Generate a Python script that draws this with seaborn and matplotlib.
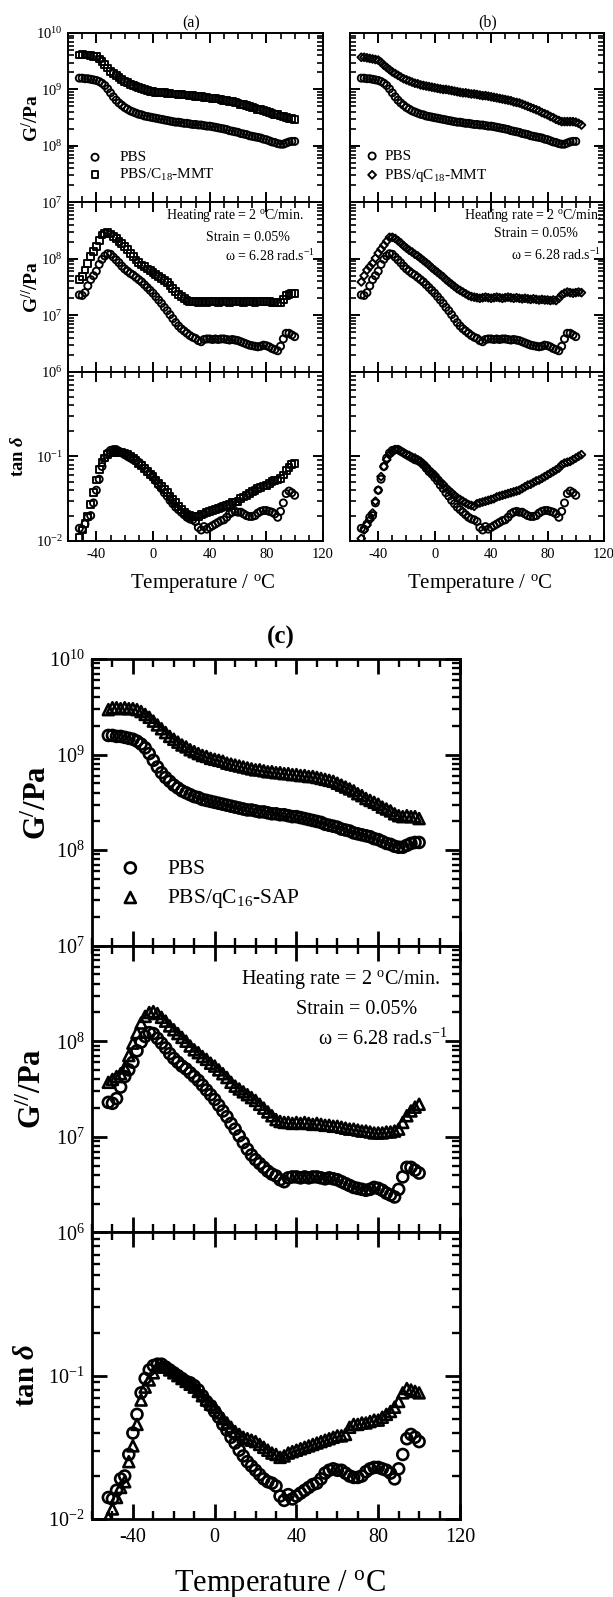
import numpy as np
import pandas as pd
import matplotlib
matplotlib.use("Agg")
import matplotlib.pyplot as plt
import seaborn as sns
from matplotlib.ticker import FixedLocator, FixedFormatter, MultipleLocator, LogLocator, NullFormatter

# ---------------- data (stored as log10) ----------------
temp = [-52, -50, -48, -46, -44, -42, -40, -38, -36, -34,
        -32, -30, -28, -26, -24, -22, -20, -18, -16, -14,
        -12, -10, -8, -6, -4, -2, 0, 2, 4, 6,
        8, 10, 12, 14, 16, 18, 20, 22, 24, 26,
        28, 30, 32, 34, 36, 38, 40, 42, 44, 46,
        48, 50, 52, 54, 56, 58, 60, 62, 64, 66,
        68, 70, 72, 74, 76, 78, 80, 82, 84, 86,
        88, 90, 92, 94, 96, 98, 100]
temp_b = temp + [102, 104]

pbs_log_gp = [9.20, 9.20, 9.19, 9.19, 9.18, 9.17, 9.16, 9.14, 9.11, 9.07,
              9.01, 8.94, 8.87, 8.81, 8.76, 8.72, 8.68, 8.65, 8.62, 8.60,
              8.58, 8.56, 8.55, 8.53, 8.52, 8.51, 8.50, 8.49, 8.48, 8.47,
              8.46, 8.45, 8.44, 8.43, 8.42, 8.42, 8.41, 8.40, 8.40, 8.39,
              8.38, 8.38, 8.37, 8.37, 8.36, 8.35, 8.35, 8.34, 8.33, 8.32,
              8.31, 8.30, 8.29, 8.27, 8.26, 8.25, 8.24, 8.22, 8.21, 8.20,
              8.18, 8.17, 8.16, 8.15, 8.14, 8.12, 8.11, 8.09, 8.07, 8.06,
              8.04, 8.03, 8.03, 8.05, 8.07, 8.08, 8.08]
pbs_log_gpp = [7.36, 7.35, 7.40, 7.52, 7.63, 7.70, 7.78, 7.90, 7.99, 8.05,
               8.09, 8.08, 8.03, 7.98, 7.93, 7.87, 7.82, 7.78, 7.74, 7.71,
               7.67, 7.63, 7.59, 7.54, 7.49, 7.44, 7.39, 7.33, 7.27, 7.21,
               7.14, 7.08, 7.01, 6.94, 6.87, 6.81, 6.76, 6.72, 6.68, 6.64,
               6.61, 6.59, 6.55, 6.53, 6.57, 6.58, 6.58, 6.57, 6.58, 6.57,
               6.58, 6.58, 6.57, 6.56, 6.57, 6.56, 6.55, 6.53, 6.51, 6.49,
               6.47, 6.46, 6.45, 6.44, 6.45, 6.47, 6.46, 6.44, 6.41, 6.39,
               6.37, 6.45, 6.58, 6.68, 6.68, 6.65, 6.62]
pbs_log_tan = [-1.85, -1.86, -1.80, -1.72, -1.70, -1.55, -1.40, -1.27, -1.12, -1.02,
               -0.96, -0.93, -0.92, -0.92, -0.94, -0.96, -0.98, -1.00, -1.02, -1.04,
               -1.05, -1.07, -1.10, -1.14, -1.18, -1.21, -1.25, -1.29, -1.34, -1.38,
               -1.43, -1.47, -1.52, -1.56, -1.60, -1.63, -1.66, -1.69, -1.72, -1.74,
               -1.75, -1.77, -1.84, -1.87, -1.83, -1.86, -1.84, -1.82, -1.80, -1.78,
               -1.76, -1.75, -1.72, -1.68, -1.66, -1.65, -1.66, -1.66, -1.68, -1.70,
               -1.71, -1.71, -1.70, -1.67, -1.65, -1.64, -1.64, -1.65, -1.66, -1.68,
               -1.72, -1.65, -1.55, -1.44, -1.41, -1.43, -1.46]

c18_log_gp = [9.61, 9.62, 9.61, 9.61, 9.60, 9.59, 9.58, 9.54, 9.49, 9.44,
              9.38, 9.32, 9.28, 9.24, 9.21, 9.17, 9.14, 9.12, 9.09, 9.07,
              9.05, 9.03, 9.01, 9.00, 8.98, 8.97, 8.96, 8.95, 8.95, 8.94,
              8.94, 8.93, 8.93, 8.92, 8.92, 8.91, 8.91, 8.90, 8.90, 8.89,
              8.89, 8.88, 8.88, 8.87, 8.86, 8.86, 8.85, 8.84, 8.84, 8.83,
              8.82, 8.81, 8.80, 8.79, 8.78, 8.77, 8.76, 8.74, 8.73, 8.71,
              8.70, 8.68, 8.67, 8.65, 8.64, 8.62, 8.61, 8.59, 8.58, 8.56,
              8.55, 8.53, 8.52, 8.50, 8.49, 8.48, 8.47]
c18_log_gpp = [7.63, 7.68, 7.80, 7.92, 8.04, 8.13, 8.22, 8.33, 8.42, 8.45,
               8.46, 8.44, 8.40, 8.36, 8.31, 8.27, 8.22, 8.16, 8.10, 8.04,
               7.98, 7.93, 7.89, 7.86, 7.82, 7.79, 7.76, 7.72, 7.69, 7.65,
               7.62, 7.58, 7.53, 7.48, 7.42, 7.37, 7.33, 7.29, 7.26, 7.25,
               7.24, 7.24, 7.23, 7.25, 7.24, 7.23, 7.24, 7.25, 7.24, 7.23,
               7.24, 7.25, 7.24, 7.23, 7.24, 7.25, 7.24, 7.24, 7.23, 7.24,
               7.25, 7.24, 7.23, 7.24, 7.25, 7.24, 7.25, 7.24, 7.23, 7.23,
               7.22, 7.22, 7.28, 7.35, 7.37, 7.38, 7.39]
c18_log_tan = [-1.96, -1.87, -1.79, -1.71, -1.57, -1.43, -1.28, -1.16, -1.07, -1.02,
               -0.98, -0.96, -0.95, -0.94, -0.95, -0.95, -0.96, -0.98, -1.00, -1.02,
               -1.05, -1.08, -1.11, -1.14, -1.18, -1.21, -1.24, -1.28, -1.32, -1.36,
               -1.39, -1.43, -1.47, -1.51, -1.55, -1.59, -1.63, -1.66, -1.68, -1.70,
               -1.71, -1.71, -1.71, -1.69, -1.68, -1.66, -1.65, -1.64, -1.63, -1.62,
               -1.60, -1.59, -1.58, -1.57, -1.55, -1.54, -1.53, -1.50, -1.48, -1.46,
               -1.44, -1.42, -1.40, -1.38, -1.37, -1.35, -1.34, -1.32, -1.30, -1.29,
               -1.28, -1.26, -1.22, -1.17, -1.13, -1.10, -1.08]

qc18_log_gp = [9.57, 9.57, 9.56, 9.55, 9.54, 9.53, 9.52, 9.48, 9.43, 9.39,
               9.35, 9.31, 9.28, 9.25, 9.22, 9.19, 9.17, 9.15, 9.13, 9.11,
               9.10, 9.08, 9.07, 9.06, 9.05, 9.04, 9.03, 9.02, 9.01, 9.00,
               9.00, 8.99, 8.98, 8.97, 8.96, 8.95, 8.94, 8.94, 8.93, 8.92,
               8.92, 8.91, 8.90, 8.89, 8.89, 8.88, 8.87, 8.86, 8.85, 8.84,
               8.83, 8.82, 8.81, 8.80, 8.78, 8.77, 8.76, 8.74, 8.72, 8.70,
               8.68, 8.66, 8.64, 8.62, 8.59, 8.57, 8.55, 8.52, 8.50, 8.47,
               8.45, 8.43, 8.43, 8.43, 8.43, 8.43, 8.42, 8.40, 8.37]
qc18_log_gpp = [7.59, 7.70, 7.80, 7.86, 7.92, 8.01, 8.10, 8.17, 8.24, 8.31,
                8.38, 8.38, 8.36, 8.32, 8.28, 8.23, 8.19, 8.15, 8.12, 8.08,
                8.05, 8.01, 7.97, 7.93, 7.89, 7.84, 7.80, 7.76, 7.72, 7.68,
                7.63, 7.59, 7.55, 7.51, 7.47, 7.44, 7.41, 7.38, 7.35, 7.33,
                7.32, 7.31, 7.30, 7.31, 7.32, 7.31, 7.30, 7.31, 7.32, 7.31,
                7.30, 7.31, 7.32, 7.31, 7.30, 7.31, 7.30, 7.29, 7.30, 7.29,
                7.28, 7.29, 7.28, 7.27, 7.28, 7.27, 7.27, 7.26, 7.27, 7.26,
                7.30, 7.36, 7.39, 7.41, 7.40, 7.39, 7.40, 7.41, 7.40]
qc18_log_tan = [-1.97, -1.87, -1.81, -1.75, -1.67, -1.53, -1.40, -1.24, -1.12, -1.04,
                -0.98, -0.95, -0.92, -0.92, -0.94, -0.96, -0.98, -0.99, -1.01, -1.02,
                -1.04, -1.06, -1.09, -1.12, -1.16, -1.19, -1.22, -1.26, -1.30, -1.33,
                -1.37, -1.40, -1.43, -1.46, -1.49, -1.51, -1.53, -1.55, -1.57, -1.58,
                -1.59, -1.56, -1.55, -1.54, -1.53, -1.52, -1.51, -1.50, -1.48, -1.47,
                -1.46, -1.45, -1.44, -1.43, -1.42, -1.41, -1.40, -1.38, -1.36, -1.34,
                -1.33, -1.31, -1.29, -1.28, -1.26, -1.24, -1.22, -1.20, -1.18, -1.16,
                -1.14, -1.10, -1.08, -1.07, -1.06, -1.04, -1.02, -1.00, -0.98]

sap_log_gp = [9.47, 9.49, 9.49, 9.48, 9.49, 9.48, 9.48, 9.47, 9.45, 9.42,
              9.39, 9.35, 9.31, 9.27, 9.23, 9.19, 9.16, 9.13, 9.10, 9.08,
              9.05, 9.03, 9.01, 8.99, 8.98, 8.96, 8.95, 8.94, 8.93, 8.91,
              8.90, 8.89, 8.88, 8.87, 8.86, 8.85, 8.84, 8.84, 8.83, 8.82,
              8.82, 8.81, 8.81, 8.80, 8.80, 8.79, 8.79, 8.78, 8.78, 8.77,
              8.77, 8.76, 8.75, 8.74, 8.73, 8.72, 8.70, 8.68, 8.66, 8.64,
              8.62, 8.59, 8.57, 8.54, 8.52, 8.50, 8.48, 8.45, 8.43, 8.41,
              8.38, 8.36, 8.35, 8.36, 8.35, 8.35, 8.33]
sap_log_gpp = [7.57, 7.60, 7.63, 7.66, 7.72, 7.85, 7.98, 8.09, 8.19, 8.26,
               8.30, 8.31, 8.29, 8.25, 8.21, 8.16, 8.12, 8.08, 8.04, 8.00,
               7.95, 7.91, 7.88, 7.84, 7.81, 7.77, 7.74, 7.70, 7.66, 7.62,
               7.57, 7.53, 7.50, 7.47, 7.44, 7.41, 7.38, 7.34, 7.30, 7.26,
               7.22, 7.18, 7.16, 7.15, 7.15, 7.14, 7.15, 7.14, 7.15, 7.14,
               7.13, 7.14, 7.13, 7.12, 7.12, 7.11, 7.11, 7.10, 7.09, 7.08,
               7.08, 7.07, 7.06, 7.06, 7.05, 7.04, 7.04, 7.04, 7.05, 7.05,
               7.06, 7.08, 7.15, 7.22, 7.27, 7.31, 7.34]
sap_log_tan = [-1.99, -1.93, -1.85, -1.78, -1.74, -1.60, -1.49, -1.34, -1.17, -1.08,
               -1.03, -0.98, -0.94, -0.93, -0.94, -0.96, -0.98, -1.00, -1.02, -1.04,
               -1.06, -1.08, -1.11, -1.14, -1.17, -1.20, -1.22, -1.26, -1.30, -1.33,
               -1.36, -1.39, -1.41, -1.43, -1.44, -1.45, -1.46, -1.48, -1.50, -1.52,
               -1.54, -1.55, -1.57, -1.56, -1.54, -1.53, -1.52, -1.51, -1.50, -1.49,
               -1.48, -1.47, -1.46, -1.45, -1.44, -1.43, -1.42, -1.42, -1.41, -1.36,
               -1.34, -1.34, -1.33, -1.33, -1.32, -1.31, -1.31, -1.29, -1.27, -1.25,
               -1.22, -1.18, -1.12, -1.09, -1.10, -1.11, -1.12]

x_major = [-40, 0, 40, 80, 120]
top_ticks = [1e7, 1e8, 1e9, 1e10]
top_labels = ["$10^{7}$", "$10^{8}$", "$10^{9}$", "$10^{10}$"]
mid_ticks = [1e6, 1e7, 1e8, 1e9]
mid_labels = ["$10^{6}$", "$10^{7}$", "$10^{8}$", ""]
bot_ticks = [1e-2, 1e-1, 1e0]
bot_labels = ["$10^{-2}$", "$10^{-1}$", ""]

label_pbs = "PBS"
label_c18 = "PBS/C$_{18}$-MMT"
label_qc18 = "PBS/qC$_{18}$-MMT"
label_sap = "PBS/qC$_{16}$-SAP"
cond_lines = ["Heating rate = 2 $^{\\mathrm{o}}$C/min.", "Strain = 0.05%", "\u03c9 = 6.28 rad.s$^{-1}$"]

# ---------------- style ----------------
sns.set_theme(style="ticks")
plt.rcParams.update({
    "font.family": ["Liberation Serif", "DejaVu Serif"],
    "mathtext.fontset": "custom",
    "mathtext.rm": "Liberation Serif",
    "mathtext.it": "Liberation Serif:italic:bold",
    "mathtext.bf": "Liberation Serif:bold",
    "axes.unicode_minus": False,
    "text.color": "black",
    "axes.labelcolor": "black",
    "xtick.color": "black",
    "ytick.color": "black",
    "axes.edgecolor": "black",
})

W, H = 613, 1597
fig = plt.figure(figsize=(W / 100, H / 100), dpi=100)
fig.patch.set_facecolor("white")


def column(left, right, top, bottom):
    h = (bottom - top) / 3.0
    out = []
    for i in range(3):
        y0 = top + i * h
        out.append(fig.add_axes([left / W, 1 - (y0 + h) / H, (right - left) / W, h / H]))
    return out


def style(ax, ylim, ticks, labels, fs, lw, maj, mino, xlab, ylab_on):
    ax.set_yscale("log")
    ax.set_xlim(-60, 120)
    ax.set_ylim(*ylim)
    ax.xaxis.set_major_locator(FixedLocator(x_major))
    ax.xaxis.set_minor_locator(MultipleLocator(10))
    ax.yaxis.set_major_locator(FixedLocator(ticks))
    ax.yaxis.set_major_formatter(FixedFormatter(labels))
    ax.yaxis.set_minor_locator(LogLocator(base=10, subs=tuple(range(2, 10)), numticks=50))
    ax.yaxis.set_minor_formatter(NullFormatter())
    ax.tick_params(which="both", direction="in", top=True, right=True, labelsize=fs)
    ax.tick_params(which="major", length=maj, width=lw)
    ax.tick_params(which="minor", length=mino, width=lw * 0.85)
    ax.tick_params(axis="x", labelbottom=xlab, pad=fs * 0.45)
    ax.tick_params(axis="y", labelleft=ylab_on, pad=fs * 0.35)
    for s in ax.spines.values():
        s.set_linewidth(lw)
        s.set_color("black")
    ax.set_facecolor("white")
    ax.grid(False)
    ax.set_xlabel("")
    ax.set_ylabel("")


def draw(ax, temps, logs, marker, s, lw, label=None):
    df = pd.DataFrame({"T": temps, "v": 10.0 ** np.asarray(logs)})
    sns.scatterplot(data=df, x="T", y="v", marker=marker, s=s, facecolors="none",
                    edgecolor="black", linewidth=lw, ax=ax, label=label,
                    legend=False, zorder=3)


def panel(axes, comp_t, comp, marker, comp_label, sizes, ylabels_on, legend_kw,
          cond_pos, cond_fs):
    fs, lw, maj, mino, s, s_comp, mlw, legfs = sizes
    a_top, a_mid, a_bot = axes
    draw(a_top, comp_t, comp[0], marker, s_comp, mlw, comp_label[1])
    draw(a_top, temp, pbs_log_gp, "o", s, mlw, comp_label[0])
    draw(a_mid, comp_t, comp[1], marker, s_comp, mlw)
    draw(a_mid, temp, pbs_log_gpp, "o", s, mlw)
    draw(a_bot, comp_t, comp[2], marker, s_comp, mlw)
    draw(a_bot, temp, pbs_log_tan, "o", s, mlw)

    style(a_top, (1e7, 1e10), top_ticks, top_labels, fs, lw, maj, mino, False, ylabels_on)
    style(a_mid, (1e6, 1e9), mid_ticks, mid_labels, fs, lw, maj, mino, False, ylabels_on)
    style(a_bot, (1e-2, 1e0), bot_ticks, bot_labels, fs, lw, maj, mino, True, ylabels_on)

    h, l = a_top.get_legend_handles_labels()
    order = [l.index(comp_label[0]), l.index(comp_label[1])]
    a_top.legend([h[i] for i in order], [l[i] for i in order], frameon=False,
                 fontsize=legfs, borderpad=0, borderaxespad=0, handlelength=1.0,
                 loc="center left", **legend_kw)

    for (txt, (xx, yy)) in zip(cond_lines, cond_pos):
        a_mid.text(xx, yy, txt, transform=a_mid.transAxes, ha="right", va="center",
                   fontsize=cond_fs)
    return a_top, a_mid, a_bot


# ---------------- panel (a) ----------------
ax_a = column(68, 323, 33, 541)
panel(ax_a, temp, (c18_log_gp, c18_log_gpp, c18_log_tan), "s", (label_pbs, label_c18),
      (10.5, 1.4, 7, 4, 26, 24, 1.35, 11), True,
      dict(bbox_to_anchor=(0.076, 0.211), handletextpad=1.1, labelspacing=0.15),
      [(0.925, 0.925), (0.872, 0.79), (0.97, 0.68)], 10)

# ---------------- panel (b) ----------------
ax_b = column(350, 604, 33, 541)
panel(ax_b, temp_b, (qc18_log_gp, qc18_log_gpp, qc18_log_tan), "D", (label_pbs, label_qc18),
      (10.5, 1.4, 7, 4, 26, 16, 1.35, 11), False,
      dict(bbox_to_anchor=(0.057, 0.211), handletextpad=0.3, labelspacing=0.25),
      [(0.99, 0.925), (0.898, 0.815), (0.99, 0.69)], 10)

# ---------------- panel (c) ----------------
ax_c = column(92, 460, 659, 1519)
panel(ax_c, temp, (sap_log_gp, sap_log_gpp, sap_log_tan), "^", (label_pbs, label_sap),
      (14.5, 2.0, 10.5, 6, 62, 62, 1.9, 15.5), True,
      dict(bbox_to_anchor=(0.075, 0.214), handletextpad=1.2, labelspacing=0.4),
      [(0.946, 0.882), (0.883, 0.777), (0.967, 0.672)], 14.5)

# axis labels
ylab_gp = "G$^{\\mathbf{/}}$/Pa"
ylab_gpp = "G$^{\\mathbf{//}}$/Pa"
ylab_tan = "tan $\\delta$"
xlab = "Temperature / $^{\\mathrm{o}}$C"

for axes, fs_y, fs_x, xpos, coords in [
        (ax_a, 14, 15, 0.53, (-0.10, -0.10, -0.16, -0.185)),
        (ax_c, 22, 22, 0.511, (-0.105, -0.12, -0.14, -0.17))]:
    axes[0].set_ylabel(ylab_gp, fontsize=fs_y, fontweight="bold")
    axes[1].set_ylabel(ylab_gpp, fontsize=fs_y, fontweight="bold")
    axes[2].set_ylabel(ylab_tan, fontsize=fs_y * 0.95, fontweight="bold")
    for k in range(3):
        axes[k].yaxis.set_label_coords(coords[k], 0.5)
    axes[2].set_xlabel(xlab, fontsize=fs_x)
    axes[2].xaxis.set_label_coords(xpos, coords[3])

ax_b[2].set_xlabel(xlab, fontsize=15)
ax_b[2].xaxis.set_label_coords(0.512, -0.185)

# panel titles
fig.text(191 / W, 1 - 23 / H, "(a)", ha="center", va="center", fontsize=11.5)
fig.text(488 / W, 1 - 22 / H, "(b)", ha="center", va="center", fontsize=11.5)
fig.text(281 / W, 1 - 637 / H, "(c)", ha="center", va="center", fontsize=18, fontweight="bold")

fig.savefig("out.png", dpi=100, facecolor="white")
